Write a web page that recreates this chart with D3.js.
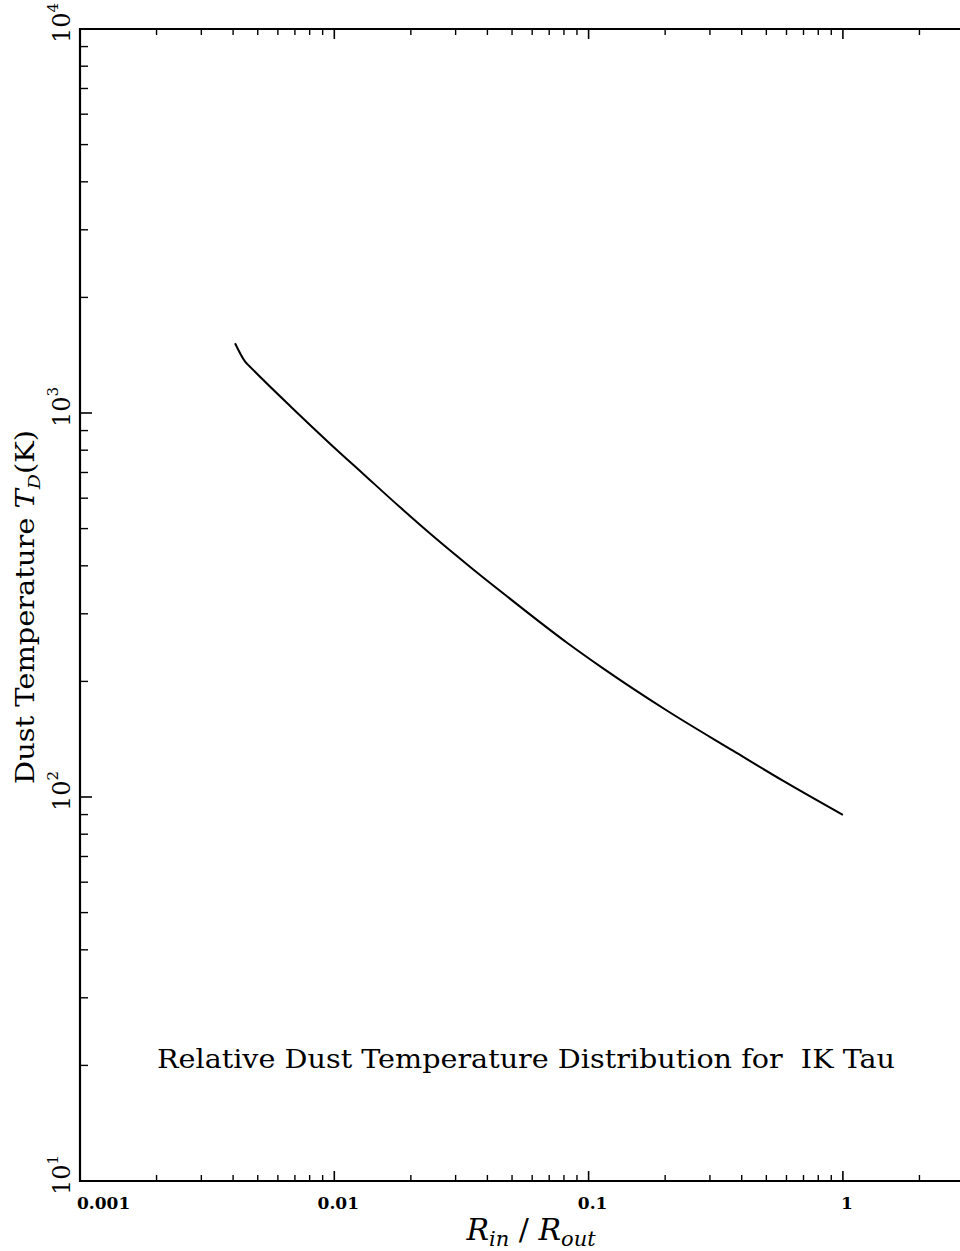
<!DOCTYPE html>
<html>
<head>
<meta charset="utf-8">
<script src="https://cdn.jsdelivr.net/npm/d3@7"></script>
<style>
  html, body { margin: 0; padding: 0; background: #fff; }
  svg { display: block; }
</style>
</head>
<body>
<svg id="chart" width="960" height="1251"></svg>
<script>
// Radius ratio R_in / R_out
const radiusRatio = [0.00407, 0.00446, 0.00473, 0.0067, 0.00962, 0.013, 0.0181, 0.0245, 0.0347, 0.0448, 0.082, 0.114, 0.203, 0.371, 0.583, 1.0];
// Dust temperature T_D in K
const dustTemp = [1519, 1360, 1307, 1043, 832, 694, 569, 477.5, 394.4, 344.5, 252.6, 216.3, 168, 131.8, 110.1, 89.8];

// Axis tick labels
const xTickValues = [0.001, 0.01, 0.1, 1];
const xTickLabels = ["0.001", "0.01", "0.1", "1"];
const yTickValues = [10, 100, 1000, 10000];
const yTickExponents = ["1", "2", "3", "4"];

const annotation = "Relative Dust Temperature Distribution for  IK Tau";

(function draw() {
  const svg = d3.select("#chart");

  const plotLeft = 80, plotTop = 29, plotBottom = 1181;
  const decadeX = 254.3;

  const x = d3.scaleLog().domain([0.001, 10]).range([plotLeft, plotLeft + 4 * decadeX]);
  const y = d3.scaleLog().domain([10, 10000]).range([plotBottom, plotTop]);

  const serif = "'DejaVu Serif', 'Liberation Serif', serif";

  // minor tick positions (2..9 per decade)
  function minorTicks(lo, hi) {
    const out = [];
    for (let d = lo; d < hi * 0.999; d *= 10) {
      for (let k = 2; k <= 9; k++) out.push(d * k);
    }
    return out;
  }
  const xMinor = minorTicks(0.001, 10);
  const yMinor = minorTicks(10, 10000);

  const axes = svg.append("g").attr("stroke", "#000").attr("fill", "none");

  // frame: left, bottom and top edges (right edge lies beyond the page)
  axes.append("line").attr("x1", x(0.001)).attr("x2", x(0.001)).attr("y1", y(10) + 1).attr("y2", y(10000) - 1).attr("stroke-width", 2.2);
  axes.append("line").attr("x1", x(0.001)).attr("x2", x(10)).attr("y1", y(10)).attr("y2", y(10)).attr("stroke-width", 2.2);
  axes.append("line").attr("x1", x(0.001)).attr("x2", x(10)).attr("y1", y(10000)).attr("y2", y(10000)).attr("stroke-width", 2.2);

  // x ticks: bottom (pointing up) and top (pointing down)
  axes.append("g").selectAll("line").data(xTickValues).join("line")
    .attr("x1", d => x(d)).attr("x2", d => x(d))
    .attr("y1", y(10)).attr("y2", y(10) - 10).attr("stroke-width", 1.6);
  axes.append("g").selectAll("line").data(xMinor).join("line")
    .attr("x1", d => x(d)).attr("x2", d => x(d))
    .attr("y1", y(10)).attr("y2", y(10) - 6).attr("stroke-width", 1.4);
  axes.append("g").selectAll("line").data(xTickValues).join("line")
    .attr("x1", d => x(d)).attr("x2", d => x(d))
    .attr("y1", y(10000)).attr("y2", y(10000) + 10).attr("stroke-width", 1.6);
  axes.append("g").selectAll("line").data(xMinor).join("line")
    .attr("x1", d => x(d)).attr("x2", d => x(d))
    .attr("y1", y(10000)).attr("y2", y(10000) + 6).attr("stroke-width", 1.4);

  // y ticks on the left edge (pointing right)
  axes.append("g").selectAll("line").data(yTickValues).join("line")
    .attr("x1", x(0.001)).attr("x2", x(0.001) + 12)
    .attr("y1", d => y(d)).attr("y2", d => y(d)).attr("stroke-width", 1.6);
  axes.append("g").selectAll("line").data(yMinor).join("line")
    .attr("x1", x(0.001)).attr("x2", x(0.001) + 8)
    .attr("y1", d => y(d)).attr("y2", d => y(d)).attr("stroke-width", 1.4);

  // x tick labels
  svg.append("g").selectAll("text").data(xTickValues).join("text")
    .attr("x", (d, i) => i === 0 ? x(d) - 3 : x(d) + 4)
    .attr("y", 1209)
    .attr("text-anchor", (d, i) => i === 0 ? "start" : "middle")
    .attr("font-family", serif).attr("font-size", 17).attr("font-weight", "bold")
    .attr("fill", "#000")
    .text((d, i) => xTickLabels[i]);

  // y tick labels: 10^n, rotated
  const yl = svg.append("g").selectAll("text").data(yTickValues).join("text")
    .attr("transform", d => `translate(70,${y(d) + 14}) rotate(-90)`)
    .attr("text-anchor", "start")
    .attr("font-family", serif).attr("font-size", 24)
    .attr("fill", "#000");
  yl.append("tspan").text("10");
  yl.append("tspan").attr("font-size", 15).attr("dy", -12).text((d, i) => yTickExponents[i]);

  // y axis title
  const yt = svg.append("text")
    .attr("transform", "translate(34,607) rotate(-90)")
    .attr("text-anchor", "middle")
    .attr("font-family", serif).attr("font-size", 26).attr("fill", "#000")
    .attr("textLength", 354).attr("lengthAdjust", "spacingAndGlyphs");
  yt.append("tspan").text("Dust Temperature ");
  yt.append("tspan").attr("font-style", "italic").text("T");
  yt.append("tspan").attr("font-style", "italic").attr("font-size", 17).attr("dy", 6).text("D");
  yt.append("tspan").attr("dy", -6).text("(K)");

  // x axis title
  const xt = svg.append("text")
    .attr("x", 531).attr("y", 1240)
    .attr("text-anchor", "middle")
    .attr("font-family", serif).attr("font-size", 30).attr("font-style", "italic").attr("fill", "#000");
  xt.append("tspan").text("R");
  xt.append("tspan").attr("font-size", 21).attr("dy", 6).text("in");
  xt.append("tspan").attr("dy", -6).attr("font-style", "normal").text(" / ");
  xt.append("tspan").text("R");
  xt.append("tspan").attr("font-size", 21).attr("dy", 6).text("out");

  // annotation
  svg.append("text")
    .attr("x", 157).attr("y", 1068)
    .attr("font-family", serif).attr("font-size", 26).attr("fill", "#000")
    .attr("textLength", 738).attr("lengthAdjust", "spacingAndGlyphs")
    .style("white-space", "pre")
    .text(annotation);

  // temperature curve
  const pts = radiusRatio.map((r, i) => [r, dustTemp[i]]);
  svg.append("path")
    .datum(pts)
    .attr("fill", "none").attr("stroke", "#000").attr("stroke-width", 2)
    .attr("stroke-linejoin", "round")
    .attr("d", d3.line().x(d => x(d[0])).y(d => y(d[1])).curve(d3.curveMonotoneX));
})();
</script>
</body>
</html>
